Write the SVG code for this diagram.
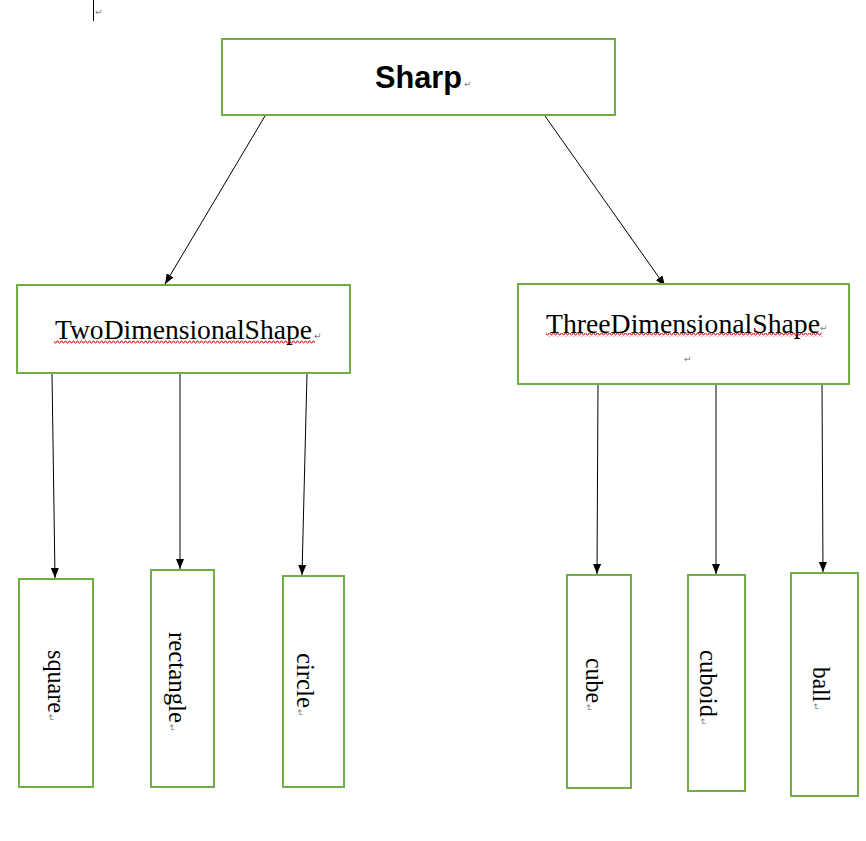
<svg xmlns="http://www.w3.org/2000/svg" width="866" height="841" viewBox="0 0 866 841">
<defs>
<style>
.box{fill:#fff;stroke:#70AD47;stroke-width:2}
.lbl{font-family:"Liberation Serif","Times New Roman",serif;fill:#000}
.ttl{font-family:"Liberation Sans",Arial,sans-serif;font-weight:bold;fill:#000}
.ret{font-family:"DejaVu Sans",sans-serif;font-size:9px;fill:#808080}
.con{stroke:#000;stroke-width:1;fill:none;marker-end:url(#ah)}
.wave{stroke:#E02020;stroke-width:1;fill:none}
</style>
<marker id="ah" markerWidth="10" markerHeight="8" refX="10" refY="4" orient="auto" markerUnits="userSpaceOnUse">
<path d="M0,0 L10,4 L0,8 Z" fill="#000"/>
</marker>
<pattern id="wv" x="0" y="0" width="4" height="4" patternUnits="userSpaceOnUse">
<path d="M0,3 L1,1 L2,1 L3,3 L4,3" class="wave"/>
</pattern>
</defs>
<rect width="866" height="841" fill="#fff"/>
<g id="cursor">
<line x1="93.5" y1="0" x2="93.5" y2="21" stroke="#000" stroke-width="1"/>
<text class="ret" x="95" y="15">↵</text>
</g>
<g id="connectors">
<line class="con" x1="265" y1="116" x2="165" y2="284"/>
<line class="con" x1="545" y1="116" x2="665" y2="286"/>
<line class="con" x1="52" y1="373" x2="55" y2="578"/>
<line class="con" x1="180" y1="373" x2="180" y2="569"/>
<line class="con" x1="307" y1="373" x2="302" y2="575"/>
<line class="con" x1="598" y1="384" x2="597" y2="574"/>
<line class="con" x1="716" y1="384" x2="716" y2="574"/>
<line class="con" x1="822" y1="384" x2="823" y2="572"/>
</g>
<g id="sharp">
<rect class="box" x="222" y="39" width="393" height="76"/>
<text class="ttl" x="375" y="88" font-size="32" textLength="87" lengthAdjust="spacingAndGlyphs">Sharp</text>
<text class="ret" x="464" y="87">↵</text>
</g>
<g id="two">
<rect class="box" x="17" y="285" width="333" height="88"/>
<text class="lbl" x="55" y="339" font-size="27" textLength="257" lengthAdjust="spacingAndGlyphs">TwoDimensionalShape</text>
<rect x="54" y="340" width="261" height="4" fill="url(#wv)"/>
<text class="ret" x="314" y="339">↵</text>
</g>
<g id="three">
<rect class="box" x="518" y="284" width="331" height="100"/>
<text class="lbl" x="546" y="333" font-size="27" textLength="274" lengthAdjust="spacingAndGlyphs">ThreeDimensionalShape</text>
<rect x="546" y="333" width="276" height="4" fill="url(#wv)"/>
<text class="ret" x="820" y="331">↵</text>
<text class="ret" x="684" y="362">↵</text>
</g>
<g id="square">
<rect class="box" x="19" y="579" width="74" height="208"/>
<text class="lbl" transform="translate(48,650) rotate(90)" font-size="25" textLength="63" lengthAdjust="spacingAndGlyphs">square</text>
<text class="ret" transform="translate(48,714) rotate(90)">↵</text>
</g>
<g id="rectangle">
<rect class="box" x="151" y="570" width="63" height="217"/>
<text class="lbl" transform="translate(168.5,632) rotate(90)" font-size="25" textLength="91" lengthAdjust="spacingAndGlyphs">rectangle</text>
<text class="ret" transform="translate(169,724) rotate(90)">↵</text>
</g>
<g id="circle">
<rect class="box" x="283" y="576" width="61" height="211"/>
<text class="lbl" transform="translate(297,653) rotate(90)" font-size="25" textLength="55" lengthAdjust="spacingAndGlyphs">circle</text>
<text class="ret" transform="translate(297,709) rotate(90)">↵</text>
</g>
<g id="cube">
<rect class="box" x="567" y="575" width="64" height="213"/>
<text class="lbl" transform="translate(585.5,658) rotate(90)" font-size="25" textLength="45" lengthAdjust="spacingAndGlyphs">cube</text>
<text class="ret" transform="translate(586,704) rotate(90)">↵</text>
</g>
<g id="cuboid">
<rect class="box" x="688" y="575" width="57" height="216"/>
<text class="lbl" transform="translate(699.5,650) rotate(90)" font-size="25" textLength="67" lengthAdjust="spacingAndGlyphs">cuboid</text>
<text class="ret" transform="translate(700,718) rotate(90)">↵</text>
</g>
<g id="ball">
<rect class="box" x="791" y="573" width="67" height="223"/>
<text class="lbl" transform="translate(812.5,667) rotate(90)" font-size="25" textLength="35" lengthAdjust="spacingAndGlyphs">ball</text>
<text class="ret" transform="translate(813,703) rotate(90)">↵</text>
</g>
</svg>
